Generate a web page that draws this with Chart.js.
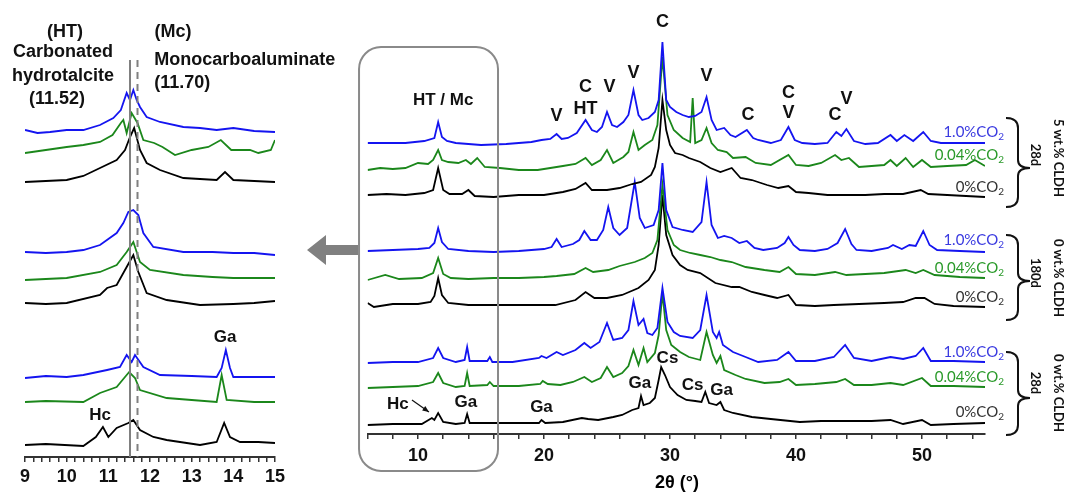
<!DOCTYPE html>
<html>
<head>
<meta charset="utf-8">
<script src="https://cdn.jsdelivr.net/npm/chart.js@4.4.1/dist/chart.umd.min.js"></script>
<style>
  html, body { margin: 0; padding: 0; background: #fff; }
  #fig { position: relative; width: 1068px; height: 493px; overflow: hidden; }
  .holder { position: absolute; top: 0; height: 493px; }
  #leftHolder { left: 0; width: 360px; }
  #rightHolder { left: 340px; width: 728px; }
  .tag { position: absolute; font-family: Lato, sans-serif; font-size: 15px; line-height: 16px; white-space: nowrap; }
  .tag sub { font-size: 10px; vertical-align: -3px; line-height: 0; }
  .side { position: absolute; font-family: Lato, sans-serif; font-weight: bold; font-size: 13px; white-space: nowrap;
          transform: translate(-50%, -50%) rotate(90deg); color: #111; }
  .xtitle { position: absolute; left: 677px; top: 482px; transform: translate(-50%, -50%);
            font-family: 'Liberation Sans', Arial, sans-serif; font-weight: bold; font-size: 18px; white-space: nowrap; }
  svg { position: absolute; left: 0; top: 0; pointer-events: none; }
</style>
</head>
<body>
<div id="fig">
  <div class="holder" id="leftHolder"><canvas id="zoomChart"></canvas></div>
  <div class="holder" id="rightHolder"><canvas id="fullChart"></canvas></div>
  <svg id="marks" width="1068" height="493"></svg>
  <div class="xtitle">2θ (°)</div>
</div>
<script>
/* stacked XRD patterns, 2theta (deg) vs intensity (a.u., offset already applied) */

/* full range, 5 wt.% CLDH 28d */
const w1Blue = [[6,291],[9,291],[10.5,293],[11.3,296],[11.6,312],[11.9,297],[12.3,293],[13,291],[15,289],[17,290],[19,292],[19.8,294],[20.5,295],[21,300],[21.4,295],[21.9,296],[22.6,301],[23.3,314],[23.8,304],[24.2,302],[24.6,307],[25,322],[25.4,309],[25.8,307],[26.3,312],[26.7,319],[27.1,344],[27.5,319],[27.8,314],[28.3,316],[28.8,322],[29.1,334],[29.4,392],[29.7,334],[30,327],[30.5,322],[31,319],[31.5,317],[32,318],[32.5,322],[32.9,337],[33.3,314],[33.7,304],[34.3,306],[34.8,299],[35.2,297],[36.1,304],[36.6,296],[37,294],[38,291],[38.8,294],[39.4,307],[39.9,294],[40.5,291],[41.5,290],[42.5,291],[43.2,302],[43.6,298],[44,305],[44.6,293],[45.5,290],[46.5,291],[47.5,299],[48,293],[48.6,299],[49.3,293],[50.1,302],[50.7,293],[51.5,291],[53,291],[55,291]];
const w1Green = [[6,264],[7,266],[8,265],[9,266],[10,271],[10.8,270],[11.2,274],[11.6,284],[11.9,274],[12.4,272],[13.2,271],[13.8,274],[14.2,270],[14.7,276],[15.3,267],[16.5,266],[18,264],[19.5,264],[20.5,266],[21.5,268],[22.5,270],[23.3,276],[23.8,269],[24.5,274],[25,284],[25.5,271],[26.3,277],[26.7,282],[27.1,302],[27.5,284],[28,289],[28.6,294],[29,309],[29.4,377],[29.8,319],[30.3,304],[31,296],[31.6,292],[31.8,336],[32,291],[32.5,294],[32.9,306],[33.3,291],[33.8,284],[34.5,282],[35,276],[36,277],[36.8,271],[38,269],[39.4,279],[40,269],[41,268],[42,271],[43.1,279],[43.6,274],[44.2,276],[45,267],[46,268],[47,269],[47.5,274],[48,268],[48.7,276],[49.3,267],[50,274],[50.7,267],[52,268],[53.5,269],[54.2,274],[55,268]];
const w1Black = [[6,239],[7.5,240],[9,239],[10.5,241],[11.2,244],[11.6,266],[12,244],[12.5,240],[13.5,240],[14,244],[14.5,238],[16,237],[18,239],[20,239],[21.5,242],[22.5,245],[23.3,251],[23.8,244],[25,244],[26,246],[27,250],[27.7,252],[28.5,259],[28.8,267],[29.1,286],[29.4,334],[29.7,304],[30,289],[30.4,281],[31,279],[31.5,276],[32.4,272],[33.2,266],[34,262],[34.9,266],[35.6,256],[36.5,254],[37.7,249],[38.6,246],[39.4,248],[40,242],[41,241],[42.5,239],[44,239],[45.5,239],[47,240],[48.5,240],[49.9,244],[50.5,240],[52,239],[53.5,238],[55,237]];

/* full range, 0 wt.% CLDH 180d */
const w2Blue = [[6,183],[8,184],[10,185],[10.9,186],[11.3,191],[11.6,206],[11.9,192],[12.4,185],[14,183],[16,182],[18,183],[20,185],[20.6,187],[21,195],[21.4,187],[22.3,190],[22.8,194],[23.2,203],[23.7,194],[24.2,194],[24.7,204],[25.1,227],[25.5,206],[26,199],[26.6,206],[27.2,252],[27.6,216],[28,206],[28.7,209],[29.1,224],[29.4,271],[29.7,224],[30.2,207],[31,204],[31.8,202],[32.5,212],[32.9,252],[33.3,209],[33.8,196],[34.3,198],[34.9,196],[35.5,191],[36.1,193],[36.7,186],[37.4,184],[38.5,186],[39.1,191],[39.4,197],[39.8,189],[40.3,184],[41.5,183],[42.5,185],[43.3,191],[43.9,205],[44.4,190],[44.8,184],[46,183],[47.3,186],[47.7,189],[48.4,185],[49,189],[49.5,188],[50.1,203],[50.6,189],[51.2,184],[53,183],[55,182]];
const w2Green = [[6,154],[7.4,159],[8.5,155],[10.3,156],[11.2,161],[11.6,176],[12,160],[12.6,156],[14,155],[16,156],[18,156],[20,157],[21,158],[22.4,160],[23.3,166],[23.9,162],[25.1,164],[26,168],[27.2,172],[28,176],[28.6,181],[29,194],[29.4,249],[29.8,204],[30.3,189],[30.8,184],[31.6,181],[32.4,179],[33.2,177],[34,174],[34.9,172],[36,167],[37.5,164],[38.7,162],[39.4,167],[40,160],[41.5,159],[43.1,162],[44,159],[45.5,160],[47,161],[48.7,164],[49.5,161],[50.1,164],[51,159],[53,157],[55,156]];
const w2Black = [[6,131],[6.5,127],[8,130],[10,130],[11,132],[11.3,138],[11.6,156],[11.9,139],[12.4,131],[14,129],[16.3,129],[18.5,129],[20.9,129],[22.5,134],[23.3,142],[24,136],[25,136],[26.2,139],[27.5,146],[28.3,154],[28.8,164],[29.1,189],[29.4,239],[29.7,199],[30.2,179],[30.8,169],[31.4,164],[32.4,161],[33.6,151],[34.9,147],[35.5,147],[36.5,142],[37.5,139],[38.5,136],[39.4,139],[40,129],[41.5,128],[43,129],[45,130],[47,131],[48.5,132],[49.5,136],[50.2,136],[51,130],[52.5,128],[55,127]];

/* full range, 0 wt.% CLDH 28d */
const w3Blue = [[6,71],[8,72],[10,72],[11.2,76],[11.6,86],[12,76],[13,72],[13.7,74],[13.9,87],[14.1,73],[15.5,73],[15.7,77],[15.9,72],[17.5,72],[19.6,76],[19.8,78],[20.2,76],[21,82],[21.5,79],[22.5,84],[23.2,91],[23.7,86],[24.4,92],[25,111],[25.5,94],[26.2,96],[26.7,104],[27.1,133],[27.5,109],[27.9,115],[28.2,101],[28.6,99],[29,106],[29.4,146],[29.8,112],[30.3,102],[30.8,98],[31.8,96],[32.4,104],[32.9,139],[33.4,102],[33.7,96],[33.9,102],[34.2,89],[35,82],[36,77],[37,72],[38.5,74],[39.4,82],[40,73],[41.5,73],[43,77],[43.9,89],[44.6,76],[46,73],[47.5,77],[48.5,75],[49.5,78],[50.1,86],[50.7,73],[52.5,73],[55,72]];
const w3Green = [[6,46],[8,47],[10,48],[11.2,52],[11.6,61],[12,51],[13,47],[13.7,48],[13.9,61],[14.1,48],[15.5,49],[15.7,52],[16,48],[18,48],[19.7,50],[19.9,53],[20.3,50],[21.3,49],[22.3,52],[23.2,57],[23.8,52],[24.5,56],[25,67],[25.5,57],[26.2,61],[26.7,68],[27.1,84],[27.5,69],[27.9,86],[28.2,72],[28.8,81],[29.1,99],[29.4,141],[29.7,104],[30.1,89],[30.8,82],[31.5,77],[32.4,74],[32.9,102],[33.4,79],[33.7,71],[34,78],[34.3,64],[35.2,59],[36,55],[37.5,51],[38.7,52],[39.4,55],[40,49],[41.5,50],[43.2,52],[43.9,55],[44.6,49],[46,49],[47.5,51],[48.5,49],[50,56],[50.7,48],[52.5,48],[55,47]];
const w3Black = [[6,9],[8,10],[10.3,10],[11.1,16],[11.3,14],[11.6,21],[12,12],[13,10],[13.7,11],[13.9,20],[14.1,11],[16,11],[18,11],[19.6,11],[19.8,14],[20.1,11],[21.5,12],[23,16],[23.5,15],[24.3,14],[25.5,17],[26.2,19],[27,24],[27.5,26],[27.7,38],[27.9,29],[28.4,31],[28.8,36],[29.1,54],[29.3,67],[29.6,59],[30,47],[30.6,39],[31.3,34],[32,33],[32.5,32],[32.8,42],[33.1,31],[33.7,29],[34,32],[34.3,24],[35,21],[36.5,17],[38,15],[40.3,12],[42,13],[44,13],[46,13],[47.5,14],[48.5,10],[50,14],[50.7,9],[52.5,10],[55,11]];

/* zoomed range 9-15 deg, same three sample groups */
const n1Blue = [[9,327],[9.3,324],[9.6,325],[10,327],[10.4,327],[10.8,332],[11.12,339],[11.3,347],[11.44,364],[11.52,357],[11.6,367],[11.68,357],[11.76,350],[11.92,340],[12.24,335],[12.8,330],[13.2,329],[13.6,327],[14,329],[14.5,326],[15,325]];
const n1Green = [[9,304],[9.5,307],[10,310],[10.4,312],[10.8,315],[11.1,322],[11.3,334],[11.36,337],[11.44,324],[11.56,344],[11.7,334],[11.84,317],[12.1,314],[12.3,310],[12.6,302],[13,307],[13.4,310],[13.7,317],[13.95,307],[14.4,307],[14.6,304],[14.9,307],[15,317]];
const n1Black = [[9,275],[9.5,276],[10,277],[10.4,281],[10.8,289],[11.2,297],[11.4,307],[11.52,320],[11.62,329],[11.76,307],[11.92,294],[12.24,287],[12.8,279],[13.2,278],[13.6,277],[13.8,285],[14,277],[14.5,276],[15,275]];
const n2Blue = [[9,205],[9.5,204],[10,205],[10.4,207],[10.8,212],[11.2,224],[11.36,234],[11.48,245],[11.6,247],[11.72,242],[11.84,224],[12.08,210],[12.8,205],[13.5,205],[14,204],[14.5,204],[15,202]];
const n2Green = [[9,177],[9.5,178],[10,179],[10.8,185],[11.2,192],[11.44,205],[11.6,215],[11.76,195],[12,187],[12.8,182],[13.5,180],[14,179],[15,179]];
const n2Black = [[9,154],[9.5,153],[10,154],[10.8,162],[10.97,169],[11.2,172],[11.44,190],[11.6,202],[11.72,185],[11.92,164],[12.4,157],[13.2,152],[14,153],[14.5,154],[15,156]];
const n3Blue = [[9,79],[9.5,81],[10,80],[10.4,82],[10.97,87],[11.28,90],[11.44,102],[11.56,95],[11.64,102],[11.84,90],[12.24,82],[13,81],[13.6,80],[13.72,89],[13.82,107],[13.92,89],[14,80],[14.5,80],[15,80]];
const n3Green = [[9,55],[9.5,56],[10.4,55],[10.8,64],[11.2,70],[11.4,80],[11.5,85],[11.64,79],[11.76,67],[12.4,59],[13,57],[13.6,55],[13.72,82],[13.84,57],[14.5,55],[15,55]];
const n3Black = [[9,12],[9.5,13],[10.4,11],[10.7,20],[10.87,30],[11,20],[11.2,29],[11.48,34],[11.6,37],[11.76,27],[12.08,20],[12.4,17],[13.2,12],[13.6,15],[13.78,34],[13.92,20],[14.16,15],[14.6,15],[15,14]];

const zoomTickLabels = [9, 10, 11, 12, 13, 14, 15];
const fullTickLabels = [10, 20, 30, 40, 50];
const refLines = [11.52, 11.70];   // HT and Mc reflections

/* peak labels: text, 2theta, intensity */
const fullPeakLabels = [
  ['V', 21.0, 318], ['C', 23.3, 347], ['HT', 23.3, 325], ['V', 25.2, 347], ['V', 27.1, 361],
  ['C', 29.4, 412], ['V', 32.9, 358], ['C', 36.2, 319], ['C', 39.4, 341], ['V', 39.4, 321],
  ['C', 43.1, 319], ['V', 44.0, 335], ['HT / Mc', 12.0, 334],
  ['Hc', 8.4, 30], ['Ga', 13.8, 32], ['Ga', 19.8, 27], ['Ga', 27.6, 51], ['Cs', 29.8, 76],
  ['Cs', 31.8, 49], ['Ga', 34.1, 44]
];
const zoomPeakLabels = [['Ga', 13.8, 120], ['Hc', 10.8, 42]];

const BLUE = '#1414f0';
const GREEN = '#1b871b';
const BLACK = '#000000';
const FONT = "'Liberation Sans', Arial, sans-serif";

function toSets(list) {
  return list.map(([pts, color]) => ({
    data: pts.map(p => ({ x: p[0], y: p[1] })),
    borderColor: color,
    borderWidth: 1.8,
    pointRadius: 0,
    tension: 0,
    fill: false
  }));
}

const overlay = {
  id: 'overlay',
  afterDraw(chart, args, opts) {
    const { ctx } = chart;
    const sx = chart.scales.x, sy = chart.scales.y;
    ctx.save();
    if (opts.box) {
      const b = opts.box;
      const x0 = sx.getPixelForValue(b[0]), x1 = sx.getPixelForValue(b[1]);
      const y0 = sy.getPixelForValue(b[2]), y1 = sy.getPixelForValue(b[3]);
      ctx.strokeStyle = '#8a8a8a';
      ctx.lineWidth = 2;
      ctx.beginPath();
      ctx.roundRect(x0, y0, x1 - x0, y1 - y0, 22);
      ctx.stroke();
    }
    (opts.vlines || []).forEach((v, i) => {
      const px = sx.getPixelForValue(v);
      ctx.strokeStyle = '#808080';
      ctx.lineWidth = 2;
      ctx.setLineDash(i === 0 ? [] : [7, 5]);
      ctx.beginPath();
      ctx.moveTo(px, sy.getPixelForValue(opts.vTop));
      ctx.lineTo(px, sy.getPixelForValue(0));
      ctx.stroke();
    });
    ctx.setLineDash([]);
    ctx.fillStyle = '#111';
    ctx.textAlign = 'center';
    ctx.textBaseline = 'middle';
    (opts.labels || []).forEach(([t, vx, vy, size, align]) => {
      ctx.font = 'bold ' + (size || 18) + 'px ' + FONT;
      ctx.textAlign = align || 'center';
      ctx.fillText(t, sx.getPixelForValue(vx), sy.getPixelForValue(vy));
    });
    if (opts.arrow) {
      const a = opts.arrow;
      const ax = sx.getPixelForValue(a[0]), ay = sy.getPixelForValue(a[1]);
      const bx = sx.getPixelForValue(a[2]), by = sy.getPixelForValue(a[3]);
      const ang = Math.atan2(by - ay, bx - ax);
      ctx.strokeStyle = '#111';
      ctx.lineWidth = 1.2;
      ctx.beginPath();
      ctx.moveTo(ax, ay);
      ctx.lineTo(bx, by);
      ctx.stroke();
      ctx.beginPath();
      ctx.moveTo(bx, by);
      ctx.lineTo(bx - 7 * Math.cos(ang - 0.4), by - 7 * Math.sin(ang - 0.4));
      ctx.lineTo(bx - 7 * Math.cos(ang + 0.4), by - 7 * Math.sin(ang + 0.4));
      ctx.closePath();
      ctx.fill();
    }
    ctx.restore();
  }
};

function axisOptions(min, max, tickVals, labels, fitHeight, fontSize, pad) {
  return {
    type: 'linear',
    min: min,
    max: max,
    afterBuildTicks: s => { s.ticks = tickVals.map(v => ({ value: v })); },
    afterFit: s => { s.height = fitHeight; },
    grid: { drawOnChartArea: false, drawTicks: true, tickLength: 5, color: '#333', lineWidth: 1.5 },
    border: { display: true, color: '#333', width: 2 },
    ticks: {
      autoSkip: false,
      maxRotation: 0,
      padding: pad,
      color: '#111',
      font: { family: FONT, size: fontSize, weight: 'bold' },
      callback: v => labels.includes(Math.round(v * 10) / 10) ? String(Math.round(v)) : ''
    }
  };
}

function baseOptions(padding, xScale, yMax, overlayOpts) {
  return {
    responsive: true,
    maintainAspectRatio: false,
    animation: false,
    layout: { padding: padding },
    plugins: { legend: { display: false }, tooltip: { enabled: false }, overlay: overlayOpts },
    scales: {
      x: xScale,
      y: { display: false, min: 0, max: yMax }
    }
  };
}

function initZoomChart() {
  const ticks = [];
  for (let i = 0; i <= 30; i++) ticks.push(Math.round((9 + i * 0.2) * 10) / 10);
  const ctx = document.getElementById('zoomChart').getContext('2d');
  new Chart(ctx, {
    type: 'line',
    data: {
      datasets: toSets([
        [n1Blue, BLUE], [n1Green, GREEN], [n1Black, BLACK],
        [n2Blue, BLUE], [n2Green, GREEN], [n2Black, BLACK],
        [n3Blue, BLUE], [n3Green, GREEN], [n3Black, BLACK]
      ])
    },
    options: baseOptions(
      { left: 25, right: 85, top: 0, bottom: 0 },
      axisOptions(9, 15, ticks, zoomTickLabels, 36, 18, 4),
      457,
      {
        vlines: refLines,
        vTop: 397,
        labels: [
          ['(HT)', 9.96, 425], ['Carbonated', 9.91, 405], ['hydrotalcite', 9.91, 381], ['(11.52)', 9.77, 358],
          ['(Mc)', 12.55, 425], ['Monocarboaluminate', 12.1, 397, 18, 'left'], ['(11.70)', 12.1, 374, 18, 'left']
        ].concat(zoomPeakLabels.map(l => [l[0], l[1], l[2], 17]))
      }
    ),
    plugins: [overlay]
  });
}

function initFullChart() {
  const ticks = [];
  for (let v = 6; v <= 54; v += 2) ticks.push(v);
  const ctx = document.getElementById('fullChart').getContext('2d');
  new Chart(ctx, {
    type: 'line',
    data: {
      datasets: toSets([
        [w1Blue, BLUE], [w1Green, GREEN], [w1Black, BLACK],
        [w2Blue, BLUE], [w2Green, GREEN], [w2Black, BLACK],
        [w3Blue, BLUE], [w3Green, GREEN], [w3Black, BLACK]
      ])
    },
    options: baseOptions(
      { left: 27.6, right: 83, top: 0, bottom: 0 },
      axisOptions(6, 55, ticks, fullTickLabels, 59, 18, 6),
      434,
      {
        box: [5.32, 16.35, 387, -37],
        labels: fullPeakLabels.map(l => [l[0], l[1], l[2], l[1] < 20 || l[2] < 100 ? 17 : 18]),
        arrow: [9.52, 34, 10.87, 22]
      }
    ),
    plugins: [overlay]
  });
}

/* sample tags, braces and group names on the right */
const groupTags = [
  { tags: [[132, '1.0%CO'], [155, '0.04%CO'], [187, '0%CO']], brace: [118, 207, 168], name: '5 wt.% CLDH', age: '28d', nameY: 158, ageY: 155 },
  { tags: [[240, '1.0%CO'], [268, '0.04%CO'], [297, '0%CO']], brace: [235, 320, 281], name: '0 wt.% CLDH', age: '180d', nameY: 278, ageY: 273 },
  { tags: [[352, '1.0%CO'], [377, '0.04%CO'], [412, '0%CO']], brace: [352, 435, 398], name: '0 wt.% CLDH', age: '28d', nameY: 393, ageY: 383 }
];
const tagColors = ['#3a3ae0', '#2a9a2a', '#333333'];

function drawSideMarks() {
  const fig = document.getElementById('fig');
  const svg = document.getElementById('marks');
  let paths = '<polygon points="307,250 326,235 326,245 358,245 358,255 326,255 326,265" fill="#808080"/>';
  for (const g of groupTags) {
    g.tags.forEach(([y, txt], i) => {
      const d = document.createElement('div');
      d.className = 'tag';
      d.style.right = (1068 - 1004) + 'px';
      d.style.top = (y - 9) + 'px';
      d.style.color = tagColors[i];
      d.innerHTML = txt + '<sub>2</sub>';
      fig.appendChild(d);
    });
    const [t, b, m] = g.brace;
    const x0 = 1006, x1 = 1018, xt = 1030;
    paths += `<path d="M${x0},${t} Q${x1},${t} ${x1},${t + 10} L${x1},${m - 8} Q${x1},${m} ${xt},${m} Q${x1},${m} ${x1},${m + 8} L${x1},${b - 10} Q${x1},${b} ${x0},${b}" fill="none" stroke="#111" stroke-width="2"/>`;
    const n = document.createElement('div');
    n.className = 'side';
    n.style.left = '1059px';
    n.style.top = g.nameY + 'px';
    n.textContent = g.name;
    fig.appendChild(n);
    const a = document.createElement('div');
    a.className = 'side';
    a.style.left = '1036px';
    a.style.top = g.ageY + 'px';
    a.textContent = g.age;
    fig.appendChild(a);
  }
  svg.innerHTML = paths;
}

const app = () => {
  initZoomChart();
  initFullChart();
  drawSideMarks();
};

app();
</script>
</body>
</html>
